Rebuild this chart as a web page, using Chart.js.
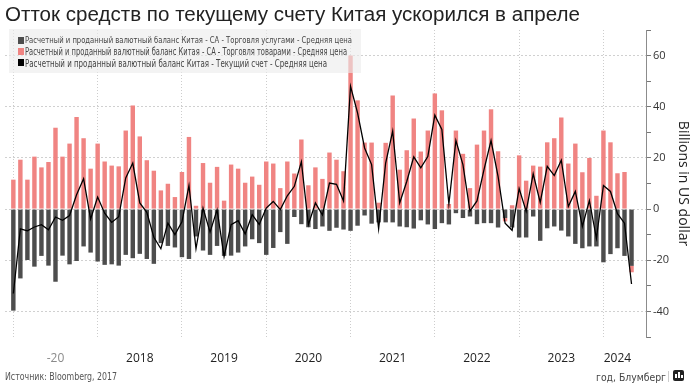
<!DOCTYPE html>
<html lang="ru">
<head>
<meta charset="UTF-8">
<title>Отток средств по текущему счету Китая</title>
<script src="https://cdn.jsdelivr.net/npm/chart.js"></script>
<style>
  body { margin: 0; background: #fff; }
  #wrap { position: relative; width: 699px; height: 388px; overflow: hidden; }
  #chart { position: absolute; left: 0; top: 0; }
  .txt { position: absolute; white-space: nowrap; transform-origin: left center; }
  .narrow { font-family: "Liberation Sans Narrow", "DejaVu Sans Condensed", "Liberation Sans", sans-serif; }
  #title { left: 5px; top: 2px; font: 20px "Liberation Sans", Arial, sans-serif; color: #222; line-height: 24px; }
  #legendBox { position: absolute; left: 9px; top: 29px; width: 352px; height: 44px; background: rgba(236,236,236,0.62); }
  .sw { position: absolute; left: 18px; width: 6px; height: 7px; }
  .lg { left: 25px; color: #444; }
  #src { left: 5px; top: 370px; font-size: 10px; color: #555; line-height: 14px; }
  #src2 { left: 596px; top: 370px; font-size: 10.5px; color: #444; line-height: 14px; }
  #sep { position: absolute; left: 668px; top: 371px; width: 1px; height: 11px; background: #ccc; }
  #icon { position: absolute; left: 673px; top: 370px; width: 11px; height: 11px; background: #222; border-radius: 2px; }
  #icon i { position: absolute; bottom: 3px; width: 2px; background: #fff; }
</style>
</head>
<body>
<div id="wrap">
  <canvas id="chart" width="699" height="388"></canvas>
  <div id="legendBox"></div>
  <div class="sw" style="top:37px;background:#4d4d4d"></div>
  <div class="txt narrow lg" data-w="327" style="top:35px;font-size:9px;line-height:11px">Расчетный и проданный валютный баланс Китая - СА - Торговля услугами - Средняя цена</div>
  <div class="sw" style="top:48px;background:#f08482"></div>
  <div class="txt narrow lg" data-w="322" style="top:45px;font-size:10.5px;line-height:13px">Расчетный и проданный валютный баланс Китая - СА - Торговля товарами - Средняя цена</div>
  <div class="sw" style="top:59px;background:#000"></div>
  <div class="txt narrow lg" data-w="302" style="top:57px;font-size:10.5px;line-height:13px">Расчетный и проданный валютный баланс Китая - Текущий счет - Средняя цена</div>
  <div id="title" class="txt" data-w="575">Отток средств по текущему счету Китая ускорился в апреле</div>
  <div id="src" class="txt narrow" data-w="112">Источник: Bloomberg, 2017</div>
  <div id="src2" class="txt narrow" data-w="70">год, Блумберг</div>
  <div id="sep"></div>
  <div id="icon"><i style="left:2px;height:4px"></i><i style="left:5px;height:6px"></i><i style="left:8px;height:3px"></i></div>
</div>
<script>
  // monthly values, Dec 2016 .. Apr 2024, billions USD
  const firstYear = 2016, firstMonth = 12;

  const services = [
    -39.7, -27.1, -19.9, -22.5, -18.3, -22.1, -28.4, -18.2, -21.6, -20.3, -14.6, -17,
    -20.5, -21.8, -21.6, -22.1, -17.9, -19.2, -17.5, -19.5, -21.4, -13.3, -14.4, -15,
    -18.8, -19.5, -10.7, -16.2, -17.9, -14.4, -18.3, -18.2, -17, -14.6, -11.8, -13.3,
    -17.9, -15.2, -9, -13.6, -3.1, -5.9, -7.1, -7.8, -6.8, -8.5, -7.3, -8,
    -8.5, -6.5, -2.5, -5.7, -5.2, -5.2, -5.2, -6.8, -7.1, -7.6, -4.4, -6,
    -7.8, -5.5, -6, -1.6, -3.5, -2.9, -5.9, -5.5, -5.5, -7.2, -3.5, -7.2,
    -11.1, -11.1, -2.9, -12.4, -7.5, -6.8, -8.4, -10.7, -13.6, -15.3, -14.6, -14.6,
    -20.8, -17.6, -15.3, -18.3, -22.2
  ];

  const goods = [
    11.5, 19.3, 11.5, 20.5, 16.3, 18.4, 31.8, 20.5, 25.6, 36, 27.7, 15.8,
    25.6, 18.6, 17, 16.7, 30.7, 40.5, 28.4, 19.1, 15, 7.3, 9.9, 4.7,
    14.5, 28.2, 1.3, 18, 10.3, 16.5, 3.3, 17.4, 15.8, 10.3, 12.7, 9.5,
    18.6, 17.8, 8.2, 18.6, 13.9, 27.2, 9.3, 16.3, 11.8, 22.1, 19.3, 14.8,
    60, 42.5, 26, 26, 2.5, 25.9, 44.4, 15.4, 23, 35.4, 22.5, 30.7,
    45.2, 38.6, 2, 30.7, 21.6, 8.2, 25.2, 30.7, 39, 22.6, -1.3, 1.5,
    21, 11.1, 17, 16.6, 26.1, 27.7, 35.8, 17.8, 25.6, 14.4, 20, 5.2,
    30.7, 26.1, 14, 14.5, -2.5
  ];

  const currentAccount = [
    -33, -7.7, -8.5, -7, -6.1, -8.1, -3.1, -4.4, -2.5, 5.6, 11.9, -3.9,
    4.7, -1.6, -5.2, -3, 12.2, 18, 2.4, -1.3, -11, -15.5, -5.5, -10,
    -5, 9.2, -15.5, 0.4, -9, -0.3, -18.5, -6.1, -4.5, -9.7, -2.2, -6,
    0.4, 3, -0.2, 5.2, 8.9, 18.5, -6.1, 2.4, -2.3, 10.2, 9.7, 3.2,
    48, 37.6, 23.9, 17.4, -7.7, 18, 30.5, 2.4, 10.8, 20.4, 16.1, 20.5,
    36.7, 31.1, 2, 26.8, 17.4, -0.8, 3.2, 15.4, 26.8, 12.8, -5.5, -8.3,
    8, -0.9, 13.8, 2.6, 16.7, 13.1, 19.1, 1, 6.9, -6.8, 3.3, -11.4,
    9.2, 6.9, -1.8, -5.5, -29.3
  ];

  const yearTicks = [2017, 2018, 2019, 2020, 2021, 2022, 2023, 2024];
  const yearLabels = ['-20', '2018', '2019', '2020', '2021', '2022', '2023', '2024'];

  // month-end position on a year axis
  const xs = services.map((_, i) => {
    const m = firstMonth - 1 + i;
    return firstYear + Math.floor(m / 12) + ((m % 12) + 1) / 12;
  });
  const lastX = xs[xs.length - 1];
  const labelPos = yearTicks.map(y => (y + Math.min(y + 1, lastX)) / 2);
  const pts = arr => arr.map((v, i) => ({ x: xs[i], y: v }));

  // squeeze html texts to their widths in the picture
  document.querySelectorAll('[data-w]').forEach(el => {
    const w = el.getBoundingClientRect().width;
    el.style.transform = 'scaleX(' + (el.dataset.w / w) + ')';
  });

  const tickFont = { family: '"Open Sans", "Noto Sans", sans-serif' };
  const tickVal = c => (c.tick ? c.tick.value : NaN);

  new Chart(document.getElementById('chart'), {
    type: 'bar',
    data: {
      datasets: [
        { label: 'services', data: pts(services), backgroundColor: '#4d4d4d', stack: 'bars', order: 1,
          barPercentage: 0.63, categoryPercentage: 1 },
        { label: 'goods', data: pts(goods), backgroundColor: '#f08482', stack: 'bars', order: 1,
          barPercentage: 0.63, categoryPercentage: 1 },
        { type: 'line', label: 'current account', data: pts(currentAccount), stack: 'line', order: 0,
          borderColor: '#000', borderWidth: 1.3, pointRadius: 0, tension: 0, fill: false }
      ]
    },
    options: {
      responsive: false,
      animation: false,
      events: [],
      layout: { padding: { left: 5, top: 30, right: 0, bottom: 0 } },
      plugins: { legend: { display: false }, tooltip: { enabled: false } },
      scales: {
        x: {
          type: 'linear',
          offset: false,
          min: 2016.901,
          max: 2024.505,
          stacked: true,
          afterBuildTicks: s => {
            s.ticks = yearTicks.map(v => ({ value: v }))
              .concat(labelPos.map(v => ({ value: v })))
              .sort((a, b) => a.value - b.value);
          },
          ticks: {
            autoSkip: false,
            maxRotation: 0,
            padding: 14,
            color: c => (tickVal(c) < 2018 ? '#8a8a8a' : '#222'),
            font: { ...tickFont, size: 12 },
            callback: v => {
              const k = labelPos.indexOf(v);
              return k >= 0 ? yearLabels[k] : '';
            }
          },
          grid: {
            offset: false,
            color: c => (Number.isInteger(tickVal(c)) ? '#cdcdcd' : 'transparent'),
            drawTicks: false
          },
          border: { display: false, dash: [1, 2] },
          afterFit: s => { s.height = 51; s.paddingLeft = 0; s.paddingRight = 0; }
        },
        y: {
          position: 'right',
          min: -50,
          max: 70,
          stacked: true,
          ticks: {
            stepSize: 10,
            padding: 2,
            color: '#333',
            font: { ...tickFont, size: 11 },
            callback: v => (v % 20 === 0 ? v : '')
          },
          grid: {
            color: c => (tickVal(c) % 20 === 0 ? '#d0d0d0' : 'transparent'),
            tickColor: '#777',
            tickLength: 5
          },
          border: { display: true, color: '#8c8c8c', dash: [2, 2] },
          title: {
            display: true,
            text: 'Billions in US dollar',
            color: '#222',
            font: { ...tickFont, size: 14 },
            padding: { top: 8, bottom: 0 }
          },
          afterFit: s => { s.width = 53; s.paddingTop = 0; s.paddingBottom = 0; }
        }
      }
    }
  });
</script>
</body>
</html>
